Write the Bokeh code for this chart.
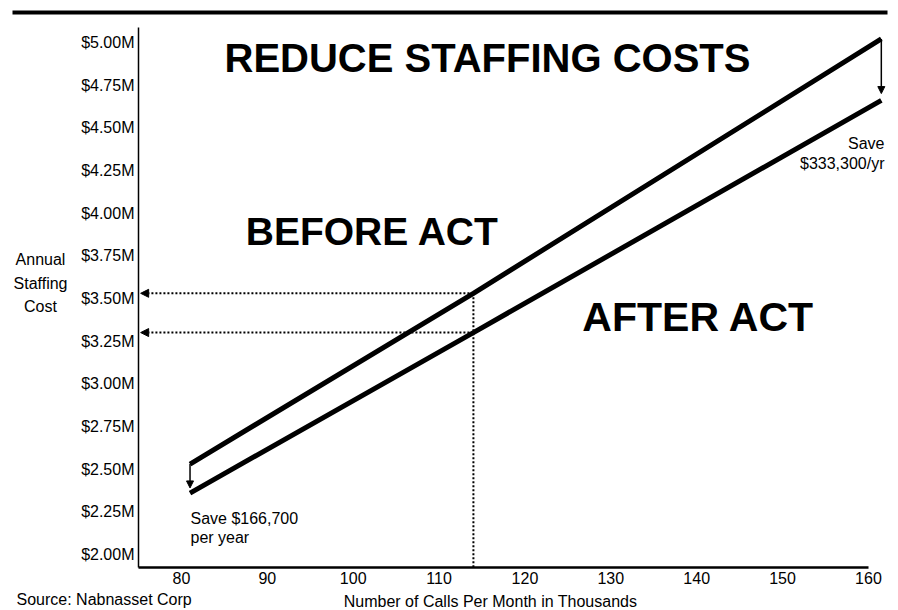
from bokeh.plotting import figure
from bokeh.models import Range1d, FixedTicker, Label, Arrow, NormalHead, BoxAnnotation
from bokeh.embed import file_html
from bokeh.resources import INLINE

# ---- data ----
calls = [81, 114, 161.5]                 # thousands of calls per month
before_act = [2.53, 3.53, 5.02]          # $M per year
after_act = [2.36, 3.30, 4.66]           # $M per year
guide_calls = 114
guide_before = 3.53
guide_after = 3.30
save_left = (81, 2.53, 2.39)
save_right = (161.5, 5.02, 4.70)
x_ticks = [80, 90, 100, 110, 120, 130, 140, 150, 160]
y_ticks = [2.00, 2.25, 2.50, 2.75, 3.00, 3.25, 3.50, 3.75, 4.00, 4.25, 4.50, 4.75, 5.00]
y_tick_labels = ["$2.00M", "$2.25M", "$2.50M", "$2.75M", "$3.00M", "$3.25M", "$3.50M",
                 "$3.75M", "$4.00M", "$4.25M", "$4.50M", "$4.75M", "$5.00M"]
x_axis_span = (75, 160)
y_axis_span = (1.924, 5.087)

# ---- layout (frame covers the whole canvas; axes sit at fixed locations) ----
W, H = 898, 610
PX_PER_X = 8.5875          # pixels per thousand calls
PX_PER_Y = 170.72          # pixels per $1M
AX_LEFT_PX, AX_TOP_PX = 138, 27
X0 = x_axis_span[0] - AX_LEFT_PX / PX_PER_X
X1 = X0 + W / PX_PER_X
Y1 = y_axis_span[1] + AX_TOP_PX / PX_PER_Y
Y0 = Y1 - H / PX_PER_Y


def dx(px):
    return X0 + px / PX_PER_X


def dy(py):
    return Y1 - py / PX_PER_Y


FONT = "Liberation Sans"

p = figure(width=W, height=H, x_range=Range1d(X0, X1), y_range=Range1d(Y0, Y1),
           output_backend="svg", toolbar_location=None,
           min_border_left=0, min_border_right=0, min_border_top=0, min_border_bottom=0,
           background_fill_color="white", border_fill_color="white",
           outline_line_color=None)
p.grid.visible = False

# axes
p.xaxis.ticker = FixedTicker(ticks=x_ticks)
p.yaxis.ticker = FixedTicker(ticks=y_ticks)
p.yaxis.major_label_overrides = {t: l for t, l in zip(y_ticks, y_tick_labels)}
for ax in (p.xaxis[0], p.yaxis[0]):
    ax.major_tick_line_color = None
    ax.minor_tick_line_color = None
    ax.major_tick_out = 0
    ax.major_tick_in = 0
    ax.minor_tick_out = 0
    ax.minor_tick_in = 0
    ax.major_label_text_font = FONT
    ax.major_label_text_font_size = "16px"
    ax.major_label_text_color = "black"
    ax.axis_line_color = "black"
p.yaxis.fixed_location = x_axis_span[0]
p.yaxis.bounds = y_axis_span
p.yaxis.axis_line_width = 1.5
p.yaxis.major_label_standoff = 4
p.xaxis.fixed_location = y_axis_span[0]
p.xaxis.bounds = x_axis_span
p.xaxis.axis_line_width = 2.5
p.xaxis.major_label_standoff = 5

# main lines
p.line(calls, before_act, line_width=5, line_color="black")
p.line(calls, after_act, line_width=5, line_color="black")

# dotted guides
for yv in (guide_before, guide_after):
    p.add_layout(Arrow(end=NormalHead(size=8, fill_color="black", line_color="black", line_width=1),
                       x_start=guide_calls, y_start=yv, x_end=x_axis_span[0] + 0.25, y_end=yv,
                       line_color="black", line_width=2, line_dash="2 2"))
p.segment(x0=[guide_calls], y0=[guide_before], x1=[guide_calls], y1=[y_axis_span[0]],
          line_color="black", line_width=2, line_dash="2 2")

# savings arrows
for xs, ys, ye in (save_left, save_right):
    p.add_layout(Arrow(end=NormalHead(size=7, fill_color="black", line_color="black", line_width=1),
                       x_start=xs, y_start=ys, x_end=xs, y_end=ye,
                       line_color="black", line_width=1.5))

# top rule
p.add_layout(BoxAnnotation(left=dx(12), right=dx(887), top=dy(10), bottom=dy(14),
                           fill_color="black", fill_alpha=1.0, line_color=None))


def lab(text, x, y, size="16px", align="left", bold=False):
    p.add_layout(Label(x=dx(x), y=dy(y), text=text, text_align=align,
                       text_baseline="middle", text_font=FONT, text_font_size=size,
                       text_font_style="bold" if bold else "normal", text_color="black"))


lab("REDUCE STAFFING COSTS", 487, 57, size="40px", align="center", bold=True)
lab("BEFORE ACT", 372, 231, size="39px", align="center", bold=True)
lab("AFTER ACT", 698, 316, size="41px", align="center", bold=True)
lab("Save $166,700", 190, 518)
lab("per year", 190, 537)
lab("Save", 884, 143, align="right")
lab("$333,300/yr", 884, 163, align="right")
lab("Annual", 40, 259, align="center")
lab("Staffing", 40, 283, align="center")
lab("Cost", 40, 306, align="center")
lab("Source: Nabnasset Corp", 16, 599)
lab("Number of Calls Per Month in Thousands", 490, 601, align="center")

open("out.html", "w").write(file_html(p, INLINE))
